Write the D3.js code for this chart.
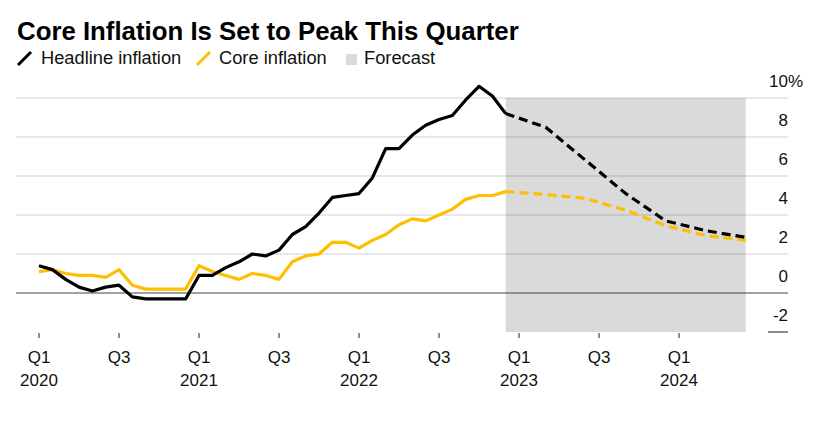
<!DOCTYPE html>
<html>
<head>
<meta charset="utf-8">
<script src="https://cdn.jsdelivr.net/npm/d3@7"></script>
<style>
  body { margin: 0; background: #fff; }
  svg { font-family: "Liberation Sans", Arial, sans-serif; }
</style>
</head>
<body>
<svg id="chart" width="830" height="444"></svg>
<script>
// monthly readings, Jan 2020 .. Dec 2022 (%, y/y)
const headline = [1.4, 1.2, 0.7, 0.3, 0.1, 0.3, 0.4, -0.2, -0.3, -0.3, -0.3, -0.3,
  0.9, 0.9, 1.3, 1.6, 2.0, 1.9, 2.2, 3.0, 3.4, 4.1, 4.9, 5.0,
  5.1, 5.9, 7.4, 7.4, 8.1, 8.6, 8.9, 9.1, 9.9, 10.6, 10.1, 9.2];
const core = [1.1, 1.2, 1.0, 0.9, 0.9, 0.8, 1.2, 0.4, 0.2, 0.2, 0.2, 0.2,
  1.4, 1.1, 0.9, 0.7, 1.0, 0.9, 0.7, 1.6, 1.9, 2.0, 2.6, 2.6,
  2.3, 2.7, 3.0, 3.5, 3.8, 3.7, 4.0, 4.3, 4.8, 5.0, 5.0, 5.2];

// quarterly forecast, Q4 2022 .. Q2 2024 (month index 35, 38, ...)
const forecastMonths = [35, 38, 41, 44, 47, 50, 53];
const headlineForecast = [9.2, 8.5, 6.8, 5.1, 3.7, 3.2, 2.85];
const coreForecast = [5.2, 5.05, 4.85, 4.25, 3.45, 2.95, 2.7];

const yTicks = [-2, 0, 2, 4, 6, 8, 10];
const xTicks = [0, 6, 12, 18, 24, 30, 36, 42, 48];
const xTickLabels = [["Q1", "2020"], ["Q3", ""], ["Q1", "2021"], ["Q3", ""], ["Q1", "2022"],
  ["Q3", ""], ["Q1", "2023"], ["Q3", ""], ["Q1", "2024"]];

const BLACK = "#000";
const YELLOW = "#fcc000";

const svg = d3.select("#chart");

const x = d3.scaleLinear().domain([0, 53]).range([39, 745.7]);
const y = d3.scaleLinear().domain([-2, 10]).range([332, 98]);

const gridLeft = 16, gridRight = 788;

// forecast shading
svg.append("rect")
  .attr("x", x(35))
  .attr("y", y(10))
  .attr("width", x(53) - x(35))
  .attr("height", y(-2) - y(10))
  .attr("fill", "#dadada");

// grid
svg.append("g")
  .selectAll("line")
  .data(yTicks.filter(d => d > 0))
  .join("line")
  .attr("x1", gridLeft).attr("x2", gridRight)
  .attr("y1", d => y(d)).attr("y2", d => y(d))
  .attr("stroke", "rgba(0,0,0,0.12)")
  .attr("stroke-width", 1.5);

svg.append("line")
  .attr("x1", gridLeft).attr("x2", gridRight)
  .attr("y1", y(0)).attr("y2", y(0))
  .attr("stroke", "#444").attr("stroke-width", 1.2);

svg.append("line")
  .attr("x1", 768).attr("x2", gridRight)
  .attr("y1", y(-2)).attr("y2", y(-2))
  .attr("stroke", "#666").attr("stroke-width", 1.5);

// y labels, % hangs past the edge
svg.append("g")
  .selectAll("text")
  .data(yTicks)
  .join("text")
  .attr("x", gridRight)
  .attr("y", d => y(d) - 11)
  .attr("text-anchor", "end")
  .attr("font-size", 17)
  .attr("fill", "#111")
  .text(d => d);
svg.append("text")
  .attr("x", gridRight)
  .attr("y", y(10) - 11)
  .attr("font-size", 17)
  .attr("fill", "#111")
  .text("%");

// x ticks
const xa = svg.append("g");
xa.selectAll("line")
  .data(xTicks)
  .join("line")
  .attr("x1", d => x(d)).attr("x2", d => x(d))
  .attr("y1", 333).attr("y2", 338)
  .attr("stroke", "#444").attr("stroke-width", 1.2);
xa.selectAll("text.q")
  .data(xTicks)
  .join("text")
  .attr("class", "q")
  .attr("x", d => x(d))
  .attr("y", 363)
  .attr("text-anchor", "middle")
  .attr("font-size", 17)
  .attr("fill", "#111")
  .text((d, i) => xTickLabels[i][0]);
xa.selectAll("text.yr")
  .data(xTicks)
  .join("text")
  .attr("class", "yr")
  .attr("x", d => x(d))
  .attr("y", 386)
  .attr("text-anchor", "middle")
  .attr("font-size", 17)
  .attr("fill", "#111")
  .text((d, i) => xTickLabels[i][1]);

// lines
const line = d3.line()
  .x(d => x(d[0]))
  .y(d => y(d[1]));

const drawSeries = (actual, forecast, color) => {
  svg.append("path")
    .attr("d", line(actual.map((v, i) => [i, v])))
    .attr("fill", "none")
    .attr("stroke", color)
    .attr("stroke-width", 3.2)
    .attr("stroke-linejoin", "round");
  svg.append("path")
    .attr("d", line(forecast.map((v, i) => [forecastMonths[i], v])))
    .attr("fill", "none")
    .attr("stroke", color)
    .attr("stroke-width", 3.2)
    .attr("stroke-dasharray", "9,5");
};
drawSeries(core, coreForecast, YELLOW);
drawSeries(headline, headlineForecast, BLACK);

// title + legend
svg.append("text")
  .attr("x", 17).attr("y", 40)
  .attr("font-size", 25.8)
  .attr("font-weight", "bold")
  .attr("fill", "#000")
  .text("Core Inflation Is Set to Peak This Quarter");

const legend = svg.append("g").attr("font-size", 18.3).attr("fill", "#111");
legend.append("line").attr("x1", 18).attr("y1", 65).attr("x2", 31).attr("y2", 52)
  .attr("stroke", BLACK).attr("stroke-width", 3);
legend.append("text").attr("x", 41).attr("y", 64).text("Headline inflation");
legend.append("line").attr("x1", 197).attr("y1", 65).attr("x2", 210).attr("y2", 52)
  .attr("stroke", YELLOW).attr("stroke-width", 3);
legend.append("text").attr("x", 219).attr("y", 64).text("Core inflation");
legend.append("rect").attr("x", 346).attr("y", 54).attr("width", 11).attr("height", 11)
  .attr("fill", "#dadada");
legend.append("text").attr("x", 364).attr("y", 64).text("Forecast");
</script>
</body>
</html>
